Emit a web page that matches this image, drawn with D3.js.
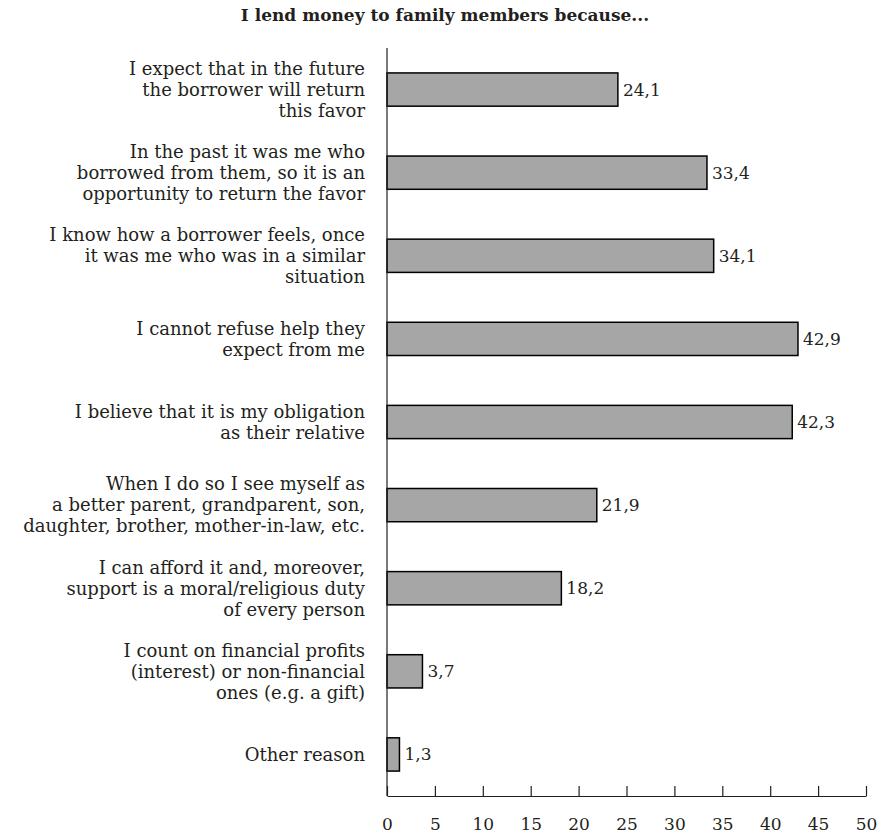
<!DOCTYPE html>
<html>
<head>
<meta charset="utf-8">
<script src="https://cdn.jsdelivr.net/npm/d3@7"></script>
<style>
  body { margin: 0; background: #fff; }
  text { font-family: "DejaVu Serif", "Liberation Serif", serif; fill: #231f20; }
</style>
</head>
<body>
<svg id="chart" width="882" height="837"></svg>
<script>
var categories = [
  ["I expect that in the future", "the borrower will return", "this favor"],
  ["In the past it was me who", "borrowed from them, so it is an", "opportunity to return the favor"],
  ["I know how a borrower feels, once", "it was me who was in a similar", "situation"],
  ["I cannot refuse help they", "expect from me"],
  ["I believe that it is my obligation", "as their relative"],
  ["When I do so I see myself as", "a better parent, grandparent, son,", "daughter, brother, mother-in-law, etc."],
  ["I can afford it and, moreover,", "support is a moral/religious duty", "of every person"],
  ["I count on financial profits", "(interest) or non-financial", "ones (e.g. a gift)"],
  ["Other reason"]
];
var values = [24.1, 33.4, 34.1, 42.9, 42.3, 21.9, 18.2, 3.7, 1.3];
var tickValues = [0, 5, 10, 15, 20, 25, 30, 35, 40, 45, 50];

function vis() {
  var svg = d3.select("#chart");
  var left = 387, right = 866, top = 48, bottom = 796;

  var x = d3.scaleLinear().domain([0, 50]).range([left, right]);
  var y = d3.scaleBand().domain(d3.range(values.length)).range([top, bottom]).paddingInner(0.6).paddingOuter(0.3);

  // Title
  svg.append("text")
    .attr("x", 445)
    .attr("y", 21)
    .attr("text-anchor", "middle")
    .style("font-weight", "bold")
    .style("font-size", "17px")
    .text("I lend money to family members because...");

  // bars
  svg.selectAll("rect.bar")
    .data(values)
    .enter().append("rect")
    .attr("class", "bar")
    .attr("x", x(0))
    .attr("y", function(d, i) { return y(i); })
    .attr("width", function(d) { return x(d) - x(0); })
    .attr("height", y.bandwidth())
    .attr("fill", "#a6a6a6")
    .attr("stroke", "#000")
    .attr("stroke-width", 1.5);

  // value labels
  svg.selectAll("text.val")
    .data(values)
    .enter().append("text")
    .attr("class", "val")
    .attr("x", function(d) { return x(d) + 5; })
    .attr("y", function(d, i) { return y(i) + y.bandwidth() / 2; })
    .attr("dy", "0.35em")
    .style("font-size", "17px")
    .text(function(d) { return d3.format(".1f")(d).replace(".", ","); });

  // category labels
  var lineH = 21;
  var cat = svg.selectAll("text.cat")
    .data(categories)
    .enter().append("text")
    .attr("class", "cat")
    .attr("text-anchor", "end")
    .style("font-size", "18px");
  cat.each(function(lines, i) {
    var cy = y(i) + y.bandwidth() / 2;
    var t = d3.select(this);
    lines.forEach(function(l, j) {
      t.append("tspan")
        .attr("x", 365)
        .attr("y", cy + (j - (lines.length - 1) / 2) * lineH)
        .attr("dy", "0.35em")
        .text(l);
    });
  });

  // y axis line
  svg.append("line")
    .attr("x1", left).attr("x2", left)
    .attr("y1", top).attr("y2", bottom)
    .attr("stroke", "#231f20").attr("stroke-width", 1.2);

  // x axis, ticks pointing up
  var ax = svg.append("g")
    .attr("transform", "translate(0," + bottom + ")")
    .call(d3.axisBottom(x).tickValues(tickValues).tickSize(-10).tickSizeOuter(0).tickPadding(22));
  ax.select(".domain").attr("stroke", "#231f20").attr("stroke-width", 1.2);
  ax.selectAll(".tick line").attr("stroke", "#231f20").attr("stroke-width", 1.2);
  ax.selectAll(".tick text")
    .style("font-family", "DejaVu Serif, serif")
    .style("font-size", "17px")
    .attr("fill", "#231f20");
}

vis();
</script>
</body>
</html>
